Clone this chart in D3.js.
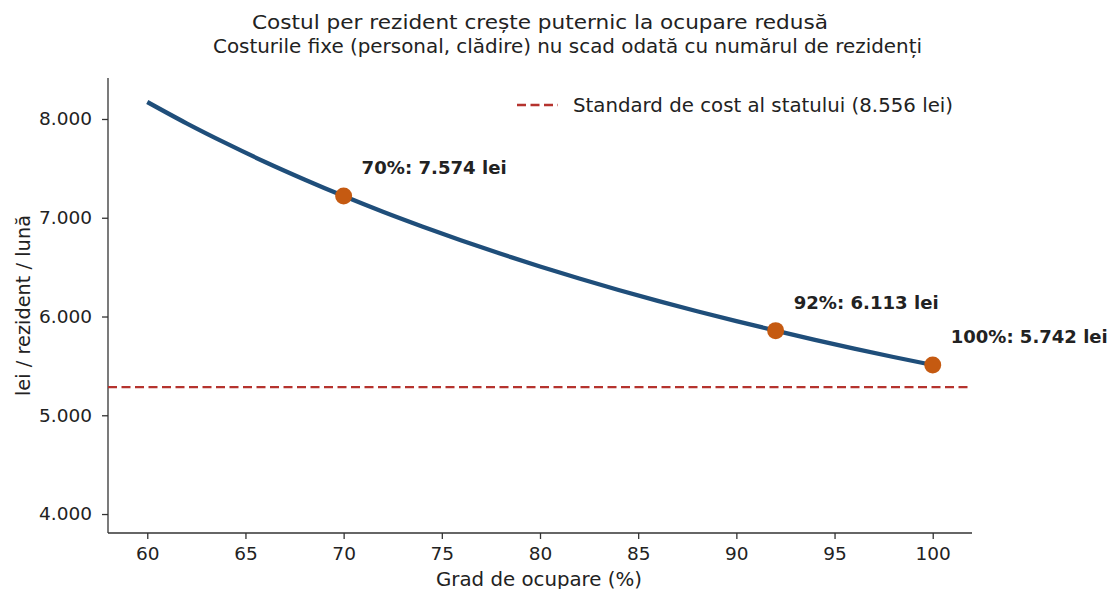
<!DOCTYPE html>
<html><head><meta charset="utf-8">
<script src="https://cdn.jsdelivr.net/npm/d3@7"></script>
<style>
body{margin:0;background:#fff;}
text{font-family:"DejaVu Sans",sans-serif;fill:#222;}
</style></head>
<body><svg id="c" width="1111" height="589"></svg>
<script>
// Data
const occupancy = [60,62,64,66,68,70,72,74,76,78,80,82,84,86,88,90,92,94,96,98,100];
const costPerResident = [8172,7956,7755,7565,7388,7220,7061,6912,6770,6635,6507,6385,6269,6159,6053,5953,5857,5764,5675,5590,5509];
const highlightOcc = [70,92,100];
const highlightCost = [7220,5857,5509];
const highlightLabels = ["70%: 7.574 lei","92%: 6.113 lei","100%: 5.742 lei"];
const standardValue = 5286;
const legendLabel = "Standard de cost al statului (8.556 lei)";
const xTicks = [60,65,70,75,80,85,90,95,100];
const yTicks = [4000,5000,6000,7000,8000];
const titleLines = ["Costul per rezident crește puternic la ocupare redusă","Costurile fixe (personal, clădire) nu scad odată cu numărul de rezidenți"];
const xLabel = "Grad de ocupare (%)";
const yLabel = "lei / rezident / lună";

const svg = d3.select("#c");
const L=108, R=972, T=78, B=533;
const x = d3.scaleLinear().domain([58,102]).range([L,R]);
const y = d3.scaleLinear().domain([3808,8415]).range([B,T]);
const ro = d3.formatLocale({decimal:",",thousands:".",grouping:[3],currency:["","lei"]});
const fmt = ro.format(",.0f");

function fit(sel, w){ sel.attr("textLength",w).attr("lengthAdjust","spacingAndGlyphs"); return sel; }

// axes
const xa = svg.append("g").attr("transform",`translate(0,${B})`)
  .call(d3.axisBottom(x).tickValues(xTicks).tickSize(6).tickPadding(8).tickFormat(d=>d));
const ya = svg.append("g").attr("transform",`translate(${L},0)`)
  .call(d3.axisLeft(y).tickValues(yTicks).tickSize(6).tickPadding(10).tickFormat(fmt));
[xa,ya].forEach(a=>{
  a.select(".domain").attr("stroke","#333").attr("stroke-width",1.3);
  a.selectAll(".tick line").attr("stroke","#333").attr("stroke-width",1.3);
  a.selectAll(".tick text").attr("font-size",18.5).attr("fill","#222").attr("font-family","DejaVu Sans");
});
xa.select(".domain").attr("d",`M${L},0H${R}`);
ya.select(".domain").attr("d",`M0,${B}V${T}`);

// standard line
svg.append("line").attr("x1",L).attr("x2",R).attr("y1",y(standardValue)).attr("y2",y(standardValue))
  .attr("stroke","#b5332e").attr("stroke-width",2.3).attr("stroke-dasharray","9,4.5");

// curve
const pts = occupancy.map((o,i)=>[o,costPerResident[i]]);
svg.append("path").datum(pts)
  .attr("d",d3.line().x(d=>x(d[0])).y(d=>y(d[1])).curve(d3.curveMonotoneX))
  .attr("fill","none").attr("stroke","#1f4e7a").attr("stroke-width",4.3);

// highlight points
const labelW=[145,145,157];
highlightOcc.forEach((o,i)=>{
  svg.append("circle").attr("cx",x(o)).attr("cy",y(highlightCost[i])).attr("r",8.5)
    .attr("fill","#c55a11");
  fit(svg.append("text").attr("x",x(o)+18).attr("y",y(highlightCost[i])-22)
    .attr("font-size",18).attr("font-weight","bold").attr("fill","#111").text(highlightLabels[i]), labelW[i]);
});

// legend
svg.append("line").attr("x1",517).attr("x2",558).attr("y1",105).attr("y2",105)
  .attr("stroke","#b5332e").attr("stroke-width",2.3).attr("stroke-dasharray","9,4.5");
fit(svg.append("text").attr("x",573).attr("y",112).attr("font-size",19).text(legendLabel),380);

// titles
fit(svg.append("text").attr("x",252).attr("y",29).attr("font-size",19).text(titleLines[0]),576);
fit(svg.append("text").attr("x",213).attr("y",53).attr("font-size",19).text(titleLines[1]),709);

// axis labels
fit(svg.append("text").attr("x",436).attr("y",586).attr("font-size",19).text(xLabel),206);
fit(svg.append("text").attr("transform",`translate(30,${(T+B)/2}) rotate(-90)`).attr("text-anchor","middle").attr("font-size",19).text(yLabel),181);
</script></body></html>
